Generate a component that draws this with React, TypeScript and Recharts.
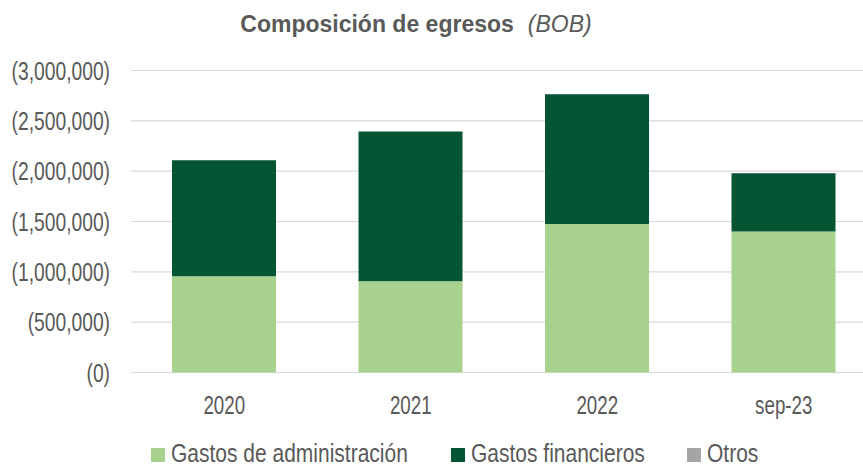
import { Bar, BarChart, CartesianGrid, Legend, XAxis, YAxis } from "recharts";

const categories = ["2020", "2021", "2022", "sep-23"];
const gastosAdministracion = [956000, 907000, 1476000, 1400000];
const gastosFinancieros = [1153000, 1487000, 1289000, 580000];
const otros = [0, 0, 0, 0];
const yTicks = [0, 500000, 1000000, 1500000, 2000000, 2500000, 3000000];

const series = [
  { key: "admin", name: "Gastos de administración", color: "#A9D18E", values: gastosAdministracion },
  { key: "fin", name: "Gastos financieros", color: "#055535", values: gastosFinancieros },
  { key: "otros", name: "Otros", color: "#A5A5A5", values: otros },
];

const data = categories.map((cat, i) => ({
  cat,
  admin: gastosAdministracion[i],
  fin: gastosFinancieros[i],
  otros: otros[i],
}));

const FONT = "'Liberation Sans', Arial, sans-serif";
const GREY = "#595959";

function fmt(v: number) {
  return `(${v.toLocaleString("en-US")})`;
}

function XTick({ x, y, payload }: any) {
  return (
    <text transform={`translate(${x},${y + 41}) scale(0.75,1)`} textAnchor="middle" fill={GREY} fontSize={25} fontFamily={FONT}>
      {payload.value}
    </text>
  );
}

function YTick({ x, y, payload }: any) {
  return (
    <text transform={`translate(${x},${y + 9}) scale(0.77,1)`} textAnchor="end" fill={GREY} fontSize={25} fontFamily={FONT}>
      {fmt(payload.value)}
    </text>
  );
}

// legend item x positions (square left edge)
const legendX = [151, 451, 687];

function LegendContent() {
  return (
    <svg width={863} height={30} style={{ display: "block" }}>
      {series.map((s, i) => (
        <g key={s.key}>
          <rect x={legendX[i]} y={10} width={14} height={14} fill={s.color} />
          <text
            transform={`translate(${legendX[i] + 20},${24}) scale(0.84,1)`}
            fill={GREY}
            fontSize={25}
            fontFamily={FONT}
          >
            {s.name}
          </text>
        </g>
      ))}
    </svg>
  );
}

export default function App() {
  return (
    <div style={{ position: "absolute", left: 0, top: 0, width: 863, height: 464, overflow: "hidden", background: "#fff" }}>
      <svg width={863} height={50} style={{ position: "absolute", left: 0, top: 0 }}>
        <text x={416} y={32} textAnchor="middle" fill={GREY} fontSize={23} fontFamily={FONT}>
          <tspan fontWeight="bold">Composición de egresos</tspan>
          <tspan fontStyle="italic" dx={14}>(BOB)</tspan>
        </text>
      </svg>
      <BarChart width={880} height={464} data={data} margin={{ top: 70.5, right: 3, left: 0, bottom: 0 }} barSize={104}>
        <CartesianGrid vertical={false} stroke="#D9D9D9" strokeWidth={1.2} />
        <XAxis dataKey="cat" height={91.5} axisLine={false} tickLine={false} tickSize={0} tickMargin={0} tick={<XTick />} interval={0} />
        <YAxis
          width={131}
          domain={[0, 3000000]}
          ticks={yTicks}
          axisLine={false}
          tickLine={false}
          tickSize={0}
          tickMargin={21}
          tick={<YTick />}
          interval={0}
        />
        {series.map((s) => (
          <Bar key={s.key} dataKey={s.key} name={s.name} stackId="a" fill={s.color} isAnimationActive={false} />
        ))}
        <Legend
          layout="horizontal"
          verticalAlign="middle"
          align="center"
          content={<LegendContent />}
          wrapperStyle={{ top: 438, left: 0, width: 863, height: 30 }}
        />
      </BarChart>
    </div>
  );
}
